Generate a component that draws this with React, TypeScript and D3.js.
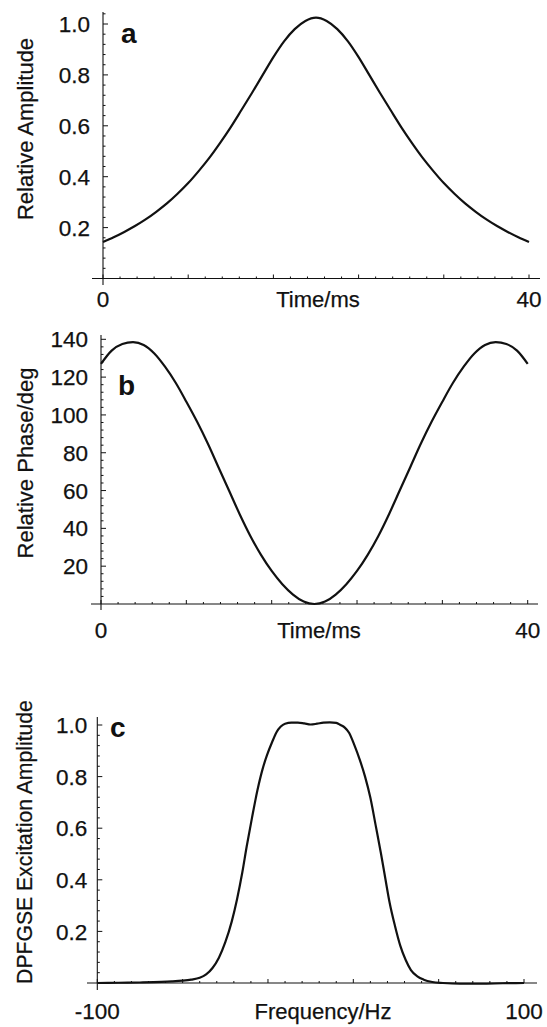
import React from "react";
import * as d3 from "d3";

// Pulse time axis (ms)
const timeMs = [
  0, 1, 2, 3, 4, 5, 6, 7, 8, 9, 10, 11, 12, 13, 14, 15, 16, 17, 18, 19, 20,
  21, 22, 23, 24, 25, 26, 27, 28, 29, 30, 31, 32, 33, 34, 35, 36, 37, 38, 39, 40,
];

// (a) relative amplitude of the shaped pulse
const amplitude = [
  0.143, 0.162, 0.183, 0.206, 0.232, 0.262, 0.295, 0.333, 0.375, 0.423, 0.475,
  0.533, 0.595, 0.662, 0.73, 0.8, 0.87, 0.932, 0.98, 1.012, 1.025, 1.012, 0.98,
  0.932, 0.87, 0.8, 0.73, 0.662, 0.595, 0.533, 0.475, 0.423, 0.375, 0.333,
  0.295, 0.262, 0.232, 0.206, 0.183, 0.162, 0.143,
];

// (b) relative phase in degrees
const phase = [
  127, 134, 137.5, 138.5, 137, 132.5, 125.5, 117, 107, 96.5, 85, 72.5, 60, 47.5,
  36, 26, 17.5, 10.5, 5, 1.3, 0, 1.3, 5, 10.5, 17.5, 26, 36, 47.5, 60, 72.5, 85,
  96.5, 107, 117, 125.5, 132.5, 137, 138.5, 137.5, 134, 127,
];

// (c) DPFGSE excitation profile
const freqHz = [
  -100, -90, -80, -70, -65, -60, -56, -52, -49, -46, -43, -40, -37, -34.5, -32,
  -30, -27.5, -25, -22.5, -20.5, -18, -16, -14, -12, -9, -6, -3, 0, 3, 6, 9, 12,
  14, 16, 18, 20.5, 23, 25.5, 28, 30.5, 33, 35, 37, 39.5, 42, 44.5, 47, 50, 53,
  57, 62, 70, 80, 90, 100,
];
const excitation = [
  0, 0.001, 0.002, 0.004, 0.006, 0.009, 0.013, 0.02, 0.033, 0.058, 0.098, 0.158,
  0.238, 0.325, 0.43, 0.528, 0.64, 0.745, 0.83, 0.882, 0.935, 0.972, 0.994,
  1.005, 1.009, 1.009, 1.006, 1.002, 1.005, 1.009, 1.01, 1.008, 1.0, 0.99, 0.97,
  0.922, 0.866, 0.8, 0.718, 0.61, 0.5, 0.405, 0.312, 0.222, 0.145, 0.09, 0.05,
  0.026, 0.013, 0.004, 0, -0.003, -0.003, -0.001, 0,
];

const ampTicks = [0.2, 0.4, 0.6, 0.8, 1.0];
const phaseTicks = [20, 40, 60, 80, 100, 120, 140];
const excTicks = [0.2, 0.4, 0.6, 0.8, 1.0];

const FONT = "'Liberation Sans', Arial, Helvetica, sans-serif";
const INK = "#111";

type PanelProps = {
  xs: number[];
  ys: number[];
  xDomain: [number, number];
  xRange: [number, number];
  yDomain: [number, number];
  yRange: [number, number];
  axisTop: number;
  xAxisExtent: [number, number];
  yAxisBottom: number;
  xMajor: number;
  yMajor: number;
  yTicks: number[];
  yFmt: (v: number) => string;
  xEndLabels: [string, string];
  xLabel: string;
  xLabelX: number;
  xLabelBaseline: number;
  yLabel: string;
  yLabelX: number;
  yLabelCenter: number;
  yLabelSize: number;
  tickGap: number;
  letter: string;
  letterX: number;
  letterY: number;
};

const textStyle = { stroke: INK, strokeWidth: 0.25 };

function Panel(p: PanelProps) {
  const x = d3.scaleLinear().domain(p.xDomain).range(p.xRange);
  const y = d3.scaleLinear().domain(p.yDomain).range(p.yRange);
  const x0 = p.xRange[0];
  const y0 = y(0);
  const yTopVal = y.invert(p.axisTop);

  const line = d3
    .line<number>()
    .x((_, i) => x(p.xs[i]))
    .y((d) => y(d))
    .curve(d3.curveMonotoneX);

  // minor ticks at fifths of each major interval
  const xStep = p.xMajor / 5;
  const xMinor = d3.range(p.xDomain[0], p.xDomain[1] + xStep / 2, xStep);
  const yStep = p.yMajor / 5;
  const yMinor = d3.range(yStep, yTopVal, yStep);

  const isMajor = (v: number, base: number, step: number) =>
    Math.abs((v - base) / step - Math.round((v - base) / step)) < 1e-6;

  return (
    <g fontFamily={FONT} fill={INK}>
      {/* axes */}
      <line x1={p.xAxisExtent[0]} x2={p.xAxisExtent[1]} y1={y0} y2={y0} stroke={INK} strokeWidth={1.1} />
      <line x1={x0} x2={x0} y1={p.axisTop} y2={p.yAxisBottom} stroke={INK} strokeWidth={1.1} />
      {xMinor.map((v, i) => {
        const major = isMajor(v, p.xDomain[0], p.xMajor);
        return (
          <line key={"xt" + i} x1={x(v)} x2={x(v)} y1={y0} y2={y0 - (major ? 4 : 2)} stroke={INK} strokeWidth={1} />
        );
      })}
      {yMinor.map((v, i) => {
        const major = isMajor(v, 0, p.yMajor);
        return (
          <line key={"yt" + i} x1={x0} x2={x0 + (major ? 5 : 2.5)} y1={y(v)} y2={y(v)} stroke={INK} strokeWidth={1} />
        );
      })}
      {/* tick labels */}
      <g style={textStyle}>
        {p.yTicks.map((v) => (
          <text key={"yl" + v} x={x0 - p.tickGap} y={y(v)} dy="0.36em" textAnchor="end" fontSize={22.5}>
            {p.yFmt(v)}
          </text>
        ))}
        <text x={x(p.xDomain[0])} y={p.xLabelBaseline} textAnchor="middle" fontSize={22.5}>
          {p.xEndLabels[0]}
        </text>
        <text x={x(p.xDomain[1])} y={p.xLabelBaseline} textAnchor="middle" fontSize={22.5}>
          {p.xEndLabels[1]}
        </text>
        <text x={p.xLabelX} y={p.xLabelBaseline} textAnchor="middle" fontSize={22}>
          {p.xLabel}
        </text>
        <text
          transform={`translate(${p.yLabelX},${p.yLabelCenter}) rotate(-90)`}
          textAnchor="middle"
          fontSize={p.yLabelSize}
        >
          {p.yLabel}
        </text>
      </g>
      <text x={p.letterX} y={p.letterY} fontSize={28} fontWeight="bold">
        {p.letter}
      </text>
      {/* data curve */}
      <path d={line(p.ys) ?? ""} fill="none" stroke={INK} strokeWidth={2.2} strokeLinejoin="round" />
    </g>
  );
}

export default function App() {
  return (
    <svg
      width={547}
      height={1027}
      viewBox="0 0 547 1027"
      style={{ position: "absolute", left: 0, top: 0, background: "#fff" }}
    >
      <rect width={547} height={1027} fill="#fff" />
      <Panel
        xs={timeMs}
        ys={amplitude}
        xDomain={[0, 40]}
        xRange={[103, 529]}
        yDomain={[0, 1]}
        yRange={[278.5, 24]}
        axisTop={12}
        xAxisExtent={[92, 540]}
        yAxisBottom={285}
        xMajor={8}
        yMajor={0.2}
        yTicks={ampTicks}
        yFmt={(v) => v.toFixed(1)}
        xEndLabels={["0", "40"]}
        xLabel="Time/ms"
        xLabelX={318}
        xLabelBaseline={306.5}
        yLabel="Relative Amplitude"
        yLabelX={33}
        yLabelCenter={129}
        yLabelSize={22}
        tickGap={13}
        letter="a"
        letterX={121}
        letterY={43}
      />
      <Panel
        xs={timeMs}
        ys={phase}
        xDomain={[0, 40]}
        xRange={[101, 527.7]}
        yDomain={[0, 140]}
        yRange={[604, 339.3]}
        axisTop={335}
        xAxisExtent={[91, 538]}
        yAxisBottom={610}
        xMajor={8}
        yMajor={20}
        yTicks={phaseTicks}
        yFmt={(v) => String(v)}
        xEndLabels={["0", "40"]}
        xLabel="Time/ms"
        xLabelX={319}
        xLabelBaseline={638}
        yLabel="Relative Phase/deg"
        yLabelX={33}
        yLabelCenter={463}
        yLabelSize={22}
        tickGap={13}
        letter="b"
        letterX={118}
        letterY={395}
      />
      <Panel
        xs={freqHz}
        ys={excitation}
        xDomain={[-100, 100]}
        xRange={[97.3, 524]}
        yDomain={[0, 1]}
        yRange={[983, 725]}
        axisTop={717}
        xAxisExtent={[87, 537]}
        yAxisBottom={990}
        xMajor={40}
        yMajor={0.2}
        yTicks={excTicks}
        yFmt={(v) => v.toFixed(1)}
        xEndLabels={["-100", "100"]}
        xLabel="Frequency/Hz"
        xLabelX={323}
        xLabelBaseline={1019}
        yLabel="DPFGSE Excitation Amplitude"
        yLabelX={32}
        yLabelCenter={842}
        yLabelSize={21.2}
        tickGap={10}
        letter="c"
        letterX={110}
        letterY={737}
      />
    </svg>
  );
}
